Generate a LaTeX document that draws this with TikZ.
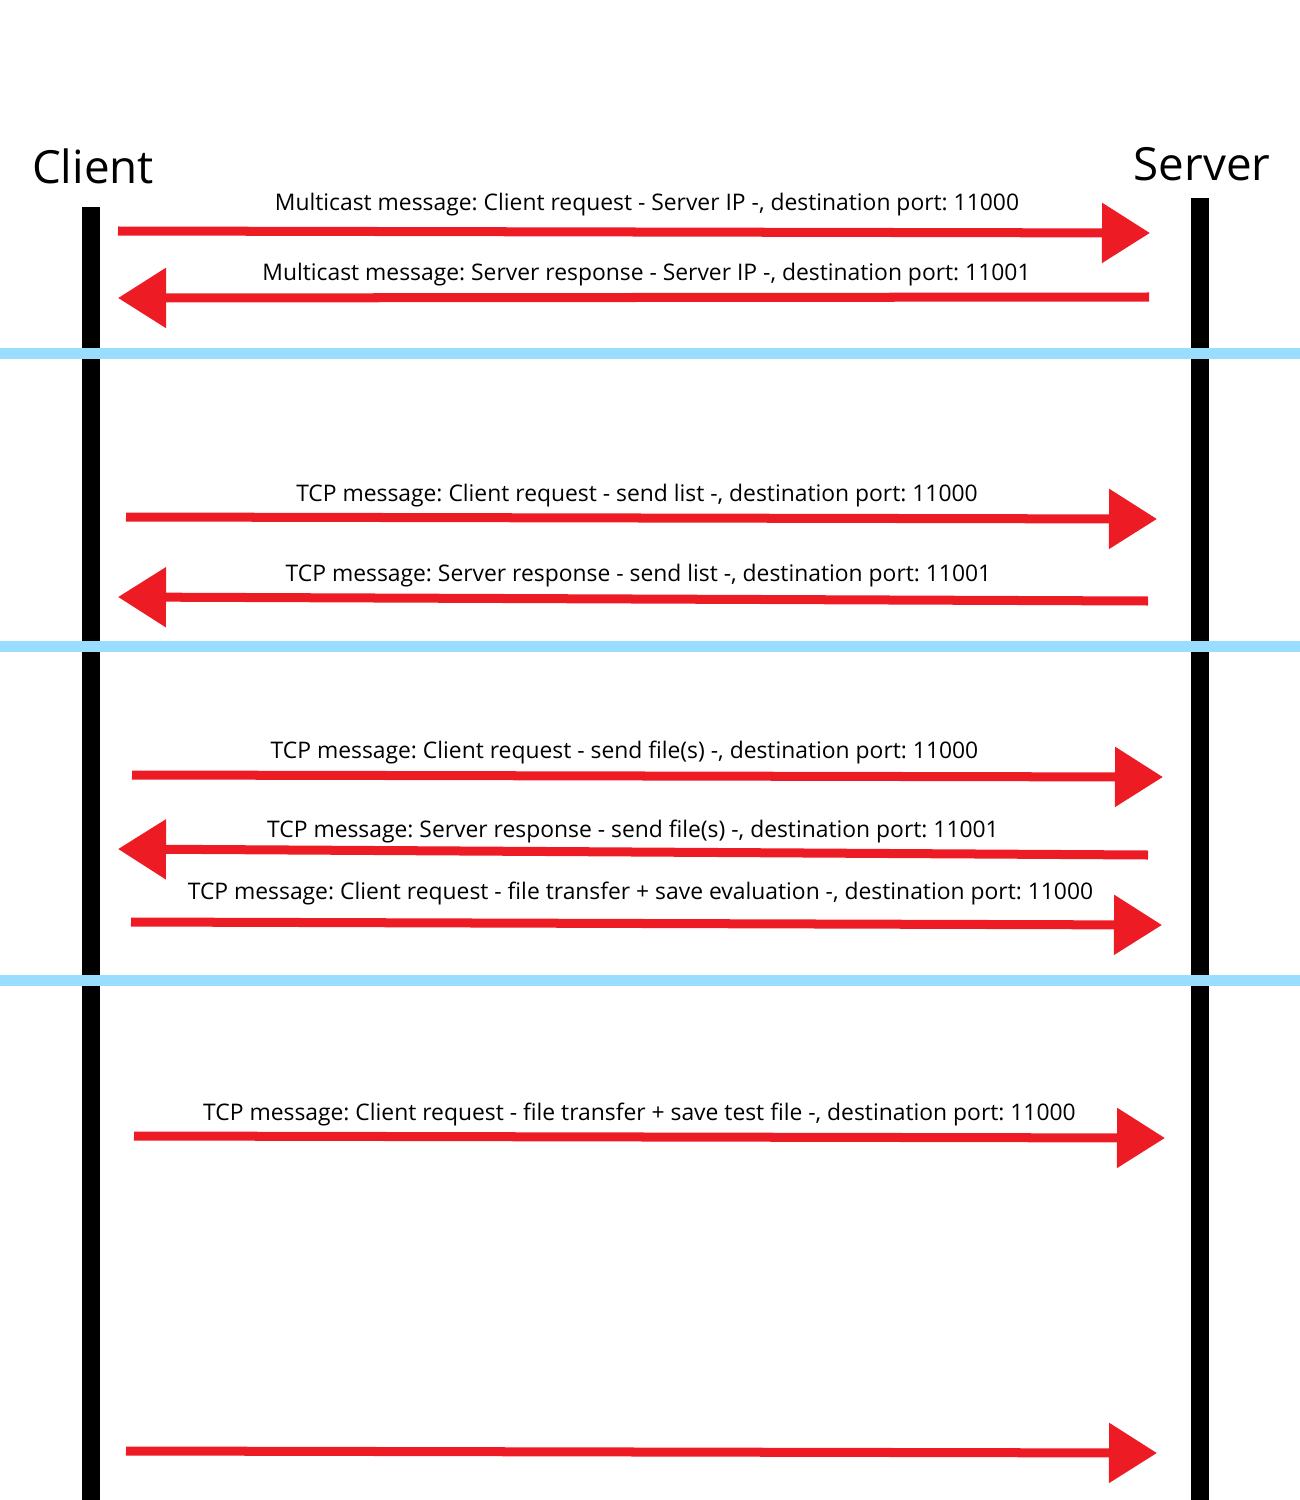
\documentclass[tikz,border=0pt]{standalone}
\usepackage{fontspec}
\setmainfont{Open Sans}
\usetikzlibrary{arrows.meta}
\definecolor{msgred}{RGB}{237,28,36}
\definecolor{sepblue}{RGB}{153,221,255}
\tikzset{
  msg/.style={draw=msgred, line width=0.09cm, -{Triangle[length=0.48cm,width=0.58cm]}},
  lbl/.style={anchor=base, inner sep=0pt, font=\fontsize{6.5pt}{7.5pt}\selectfont},
  title/.style={anchor=base, inner sep=0pt, font=\fontsize{13pt}{15pt}\selectfont},
  life/.style={fill=black, draw=none},
  sep/.style={fill=sepblue, draw=none}
}
\frenchspacing
\begin{document}
\begin{tikzpicture}[x=0.01cm, y=-0.01cm]
\useasboundingbox (0,0) rectangle (1300,1500);
% lifelines
\fill[life] (82,207) rectangle (100,1500);
\fill[life] (1191,198) rectangle (1209,1500);
% separators
\fill[sep] (0,348) rectangle (1300,359);
\fill[sep] (0,641) rectangle (1300,652);
\fill[sep] (0,975) rectangle (1300,986);
% titles
\node[title] (client) at (93,183) {Client};
\node[title] (server) at (1202,181) {Server};
% endpoints
\coordinate (a1s) at (118,231);  \coordinate (a1e) at (1150,233);
\coordinate (a2s) at (1149,297); \coordinate (a2e) at (118,298);
\coordinate (a3s) at (126,517);  \coordinate (a3e) at (1157,519);
\coordinate (a4s) at (1148,601); \coordinate (a4e) at (118,597);
\coordinate (a5s) at (132,775);  \coordinate (a5e) at (1163,777);
\coordinate (a6s) at (1148,855); \coordinate (a6e) at (118,849);
\coordinate (a7s) at (131,922);  \coordinate (a7e) at (1162,925);
\coordinate (a8s) at (134,1136); \coordinate (a8e) at (1165,1138);
\coordinate (a9s) at (126,1451); \coordinate (a9e) at (1157,1453);
\draw[msg] (a1s) -- (a1e);
\draw[msg] (a2s) -- (a2e);
\draw[msg] (a3s) -- (a3e);
\draw[msg] (a4s) -- (a4e);
\draw[msg] (a5s) -- (a5e);
\draw[msg] (a6s) -- (a6e);
\draw[msg] (a7s) -- (a7e);
\draw[msg] (a8s) -- (a8e);
\draw[msg] (a9s) -- (a9e);
% labels
\node[lbl] (l1) at (647,211) {Multicast message: Client request - Server IP -, destination port: 11000};
\node[lbl] (l2) at (646.5,281) {Multicast message: Server response - Server IP -, destination port: 11001};
\node[lbl] (l3) at (637,501) {TCP message: Client request - send list -, destination port: 11000};
\node[lbl] (l4) at (638.5,581) {TCP message: Server response - send list -, destination port: 11001};
\node[lbl] (l5) at (624.5,758) {TCP message: Client request - send file(s) -, destination port: 11000};
\node[lbl] (l6) at (633,837) {TCP message: Server response - send file(s) -, destination port: 11001};
\node[lbl] (l7) at (640.5,899) {TCP message: Client request - file transfer + save evaluation -, destination port: 11000};
\node[lbl] (l8) at (639.5,1120) {TCP message: Client request - file transfer + save test file -, destination port: 11000};
\end{tikzpicture}
\end{document}
